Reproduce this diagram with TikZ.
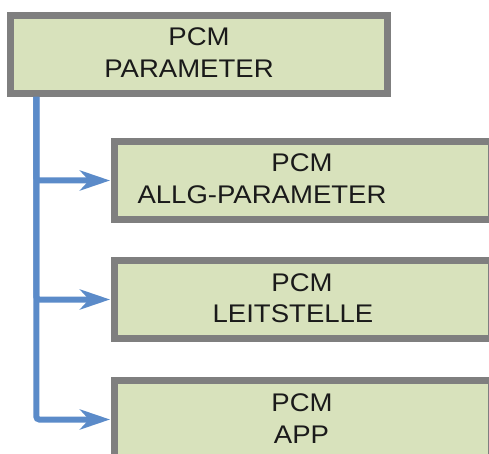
\documentclass[tikz,border=0pt]{standalone}
\usepackage{fontspec}
\setmainfont{Liberation Sans}[FakeStretch=1.08]
\usetikzlibrary{arrows.meta}
\definecolor{boxfill}{HTML}{D8E2BC}
\definecolor{boxline}{HTML}{7F7F7F}
\definecolor{linkblue}{HTML}{5B8BC9}
\definecolor{textgray}{HTML}{1A1A1A}

\begin{document}
\begin{tikzpicture}[x=1pt,y=-1pt]
%style for parameter box
\tikzstyle{pbox} = [rectangle, fill=boxfill, draw=boxline, line width=7pt, minimum width=377pt, minimum height=78pt, inner sep=0pt]

%style for box text
\tikzstyle{ptext} = [inner sep=0pt, text=textgray, font=\fontsize{25.5}{30}\selectfont]

%style for blue links
\tikzstyle{link} = [draw=linkblue, line width=6pt, rounded corners=3pt, -{Stealth[length=30pt, width=20pt, inset=9pt]}, shorten >=1pt]

\clip (0,0) rectangle (489,454);

%place nodes
\node[pbox](main) at (199,54.5) {};
\node[pbox](allg) at (303,180.5) {};
\node[pbox](leit) at (303,299.5) {};
\node[pbox](app) at (303,419.5) {};

\node[ptext](mainA) at ([shift={(0,-17.5)}]main.center) {PCM};
\node[ptext](mainB) at ([shift={(-10,14.5)}]main.center) {PARAMETER};
\node[ptext](allgA) at ([shift={(-1,-17.5)}]allg.center) {PCM};
\node[ptext](allgB) at ([shift={(-41,14.5)}]allg.center) {ALLG-PARAMETER};
\node[ptext](leitA) at ([shift={(-1,-17)}]leit.center) {PCM};
\node[ptext](leitB) at ([shift={(-10,14)}]leit.center) {LEITSTELLE};
\node[ptext](appA) at ([shift={(-1,-17)}]app.center) {PCM};
\node[ptext](appB) at ([shift={(-1.5,15.5)}]app.center) {APP};

%connect nodes with lines
\coordinate (root) at ([xshift=29.3pt]main.south west);
\draw[link] (root) |- (allg.west);
\draw[link] (root) |- (leit.west);
\draw[link] (root) |- (app.west);
\end{tikzpicture}
\end{document}
